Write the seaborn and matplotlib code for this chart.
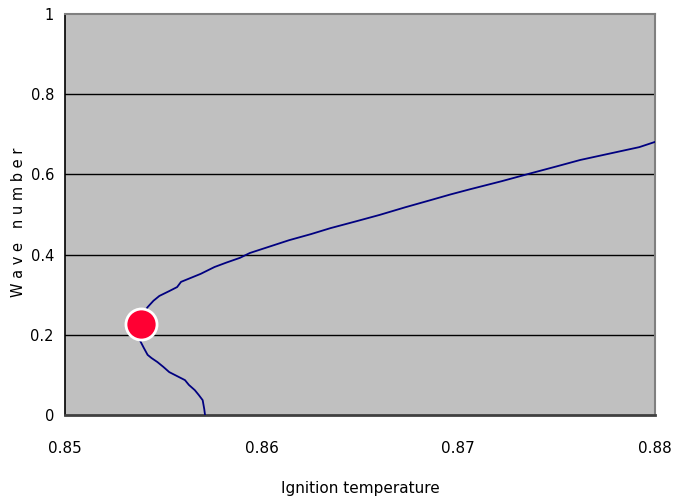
import matplotlib
matplotlib.use("Agg")
import matplotlib.pyplot as plt
import seaborn as sns
import pandas as pd

# Neutral stability curve: ignition temperature vs. wave number
ignition_temp = [0.85712, 0.85708, 0.8570, 0.8568, 0.8566, 0.8563, 0.8561, 0.8557,
                 0.8553, 0.8550, 0.8547, 0.8544, 0.8542, 0.8540, 0.8538, 0.85375,
                 0.8537, 0.8539, 0.8542, 0.8545, 0.8548, 0.8553, 0.8557, 0.8559,
                 0.8564, 0.8569, 0.8576, 0.8582, 0.8589, 0.8594, 0.8604, 0.8614,
                 0.8625, 0.8635, 0.8648, 0.8660, 0.8673, 0.8686, 0.8696, 0.8706,
                 0.8722, 0.8737, 0.8750, 0.8762, 0.8777, 0.8792, 0.8800]
wave_number = [0.0, 0.015, 0.037, 0.050, 0.062, 0.075, 0.087, 0.097,
               0.107, 0.120, 0.132, 0.142, 0.150, 0.168, 0.187, 0.205,
               0.224, 0.248, 0.269, 0.285, 0.297, 0.309, 0.319, 0.332,
               0.342, 0.352, 0.369, 0.380, 0.392, 0.404, 0.420, 0.436,
               0.451, 0.466, 0.483, 0.499, 0.518, 0.536, 0.550, 0.563,
               0.583, 0.603, 0.620, 0.636, 0.652, 0.668, 0.681]

# Critical point (minimum ignition temperature)
critical_temp = [0.85386]
critical_wave = [0.227]

x_ticks = [0.85, 0.86, 0.87, 0.88]
x_tick_labels = ["0.85", "0.86", "0.87", "0.88"]
y_ticks = [0, 0.2, 0.4, 0.6, 0.8, 1.0]
y_tick_labels = ["0", "0.2", "0.4", "0.6", "0.8", "1"]

sns.set_style("white")
plt.rcParams["font.family"] = ["Liberation Sans Narrow", "DejaVu Sans"]
plt.rcParams["text.color"] = "black"
plt.rcParams["axes.labelcolor"] = "black"
plt.rcParams["xtick.color"] = "black"
plt.rcParams["ytick.color"] = "black"

curve = pd.DataFrame({"T": ignition_temp, "k": wave_number})
point = pd.DataFrame({"T": critical_temp, "k": critical_wave})

fig = plt.figure(figsize=(6.82, 4.99), dpi=100)
ax = fig.add_axes([65 / 682, 1 - 415 / 499, 590 / 682, 401 / 499])
ax.set_facecolor("#C0C0C0")

for yv in y_ticks[1:-1]:
    ax.axhline(yv, color="black", lw=1.0, zorder=1)

sns.lineplot(data=curve, x="T", y="k", sort=False, estimator=None,
             color="#000080", lw=1.3, ax=ax, zorder=3)
sns.scatterplot(data=point, x="T", y="k", s=500, color="#FF0033",
                edgecolor="white", linewidth=2, ax=ax, zorder=4)

ax.set_xlim(0.85, 0.88)
ax.set_ylim(0, 1)
ax.set_xticks(x_ticks)
ax.set_xticklabels(x_tick_labels)
ax.set_yticks(y_ticks)
ax.set_yticklabels(y_tick_labels)
ax.tick_params(axis="x", direction="in", length=5, width=1, color="black",
               labelcolor="black", labelsize=11, pad=19)
ax.tick_params(axis="y", direction="out", length=3, width=1, color="black",
               labelcolor="black", labelsize=10.5, pad=5)
for lbl in ax.get_yticklabels():
    lbl.set_va("center_baseline")

for side in ["top", "right"]:
    ax.spines[side].set_color("#808080")
    ax.spines[side].set_linewidth(1.5)
ax.spines["left"].set_color("black")
ax.spines["left"].set_linewidth(1.2)
ax.spines["bottom"].set_color("#404040")
ax.spines["bottom"].set_linewidth(2)

ax.set_xlabel("Ignition temperature", fontsize=11, color="black")
ax.set_ylabel("W a v e   n u m b e r", fontsize=10.5, color="black")
ax.xaxis.set_label_coords(0.5, -(488 - 415) / 401, transform=ax.transAxes)
ax.xaxis.label.set_va("center")
ax.yaxis.set_label_coords(-(65 - 19) / 590, (415 - 222) / 401, transform=ax.transAxes)
ax.yaxis.label.set_va("center")

fig.savefig("out.png", dpi=100)
